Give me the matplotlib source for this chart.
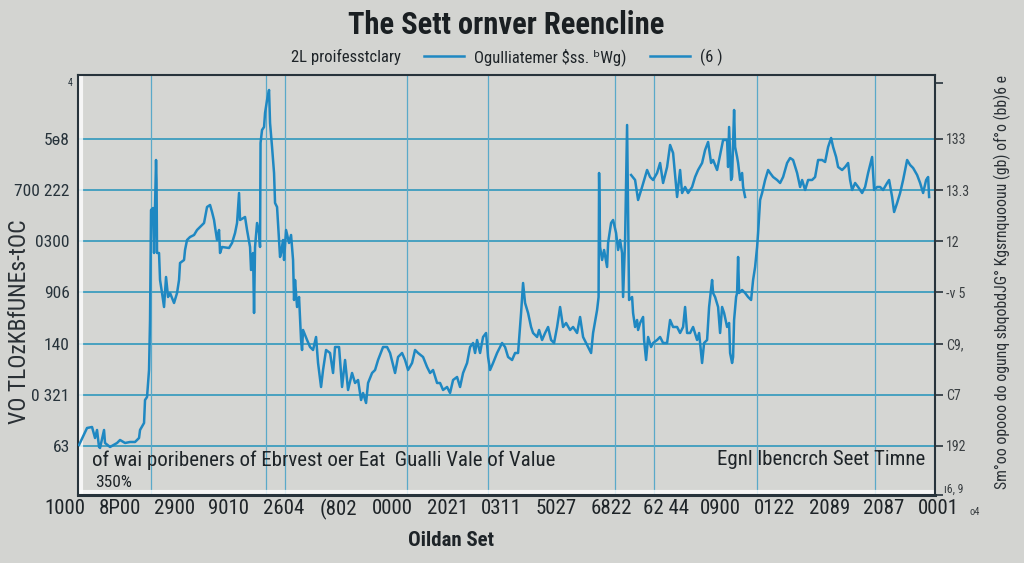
import matplotlib
matplotlib.use("Agg")
import matplotlib.pyplot as plt
import matplotlib.font_manager as fm
from matplotlib.lines import Line2D
import numpy as np

# pick a narrow face if one is installed, otherwise a plain one drawn a bit smaller
names = {f.name for f in fm.fontManager.ttflist}
dv_cond = any(f.name == 'DejaVu Sans' and 'condensed' in str(f.stretch) for f in fm.fontManager.ttflist)
if 'Liberation Sans Narrow' in names:
    FAM, STRETCH, K = 'Liberation Sans Narrow', 'normal', 1.0
elif 'Roboto Condensed' in names:
    FAM, STRETCH, K = 'Roboto Condensed', 'normal', 1.0
elif dv_cond:
    FAM, STRETCH, K = 'DejaVu Sans', 'condensed', 0.9
else:
    FAM, STRETCH, K = 'Liberation Sans', 'normal', 0.84
plt.rcParams['font.family'] = [FAM, 'DejaVu Sans']
plt.rcParams['font.stretch'] = STRETCH

# main series (step, level)
steps_a = [1, 9, 14, 17, 19, 21, 22, 26, 27, 32, 39, 42, 47, 52, 57, 61, 62, 66, 67, 69,
           71, 72, 73, 75, 76, 78, 78.5, 79, 81, 82, 84, 86, 88, 90, 92, 96, 99, 101, 102, 106,
           107, 109, 112, 116, 119, 122, 126, 129, 132, 134, 136, 137, 139, 141, 142, 144, 151, 154, 157, 159,
           161, 162, 167, 169, 172, 173, 175, 176, 177, 179, 181, 182, 182.5, 184, 186, 187, 189, 191, 192, 194,
           196, 197, 199, 201, 202, 203, 205, 206, 208, 211, 213, 215, 216, 217, 219, 221, 223, 224, 225, 229,
           232, 235, 238, 240, 243, 245, 248, 252, 255, 257, 261, 264, 267, 270, 274, 277, 280, 283, 285, 288,
           290, 294, 297, 300, 305, 309, 312, 317, 320, 324, 327, 330, 334, 337, 340, 345, 349, 352, 355, 359,
           362, 365, 369, 372, 375, 379, 382, 385, 389, 392, 395, 397, 399, 402, 405, 408, 410, 412, 415, 419,
           424, 427, 430, 434, 437, 440, 443, 445, 447, 450, 453, 455, 459, 461, 464, 467, 470, 473, 476, 479,
           482, 485, 488, 492, 495, 499, 502, 505, 508, 510, 513, 515, 519, 520.5, 521, 522, 524, 526, 529, 530,
           533, 535, 538, 540, 542, 544, 545, 547, 548, 549, 550, 551, 554, 555, 557, 559, 560, 562, 565, 566,
           568, 570, 573, 575, 579, 582, 585, 589, 592, 595, 599, 602, 605, 607, 609, 612, 615, 619, 621, 624,
           626, 629, 631, 634, 635, 637, 640, 642, 644, 646, 649, 651, 652, 654, 655, 656, 658, 659, 660, 661,
           664, 667, 670, 673, 675, 677, 679, 680, 682, 684, 687, 690, 692, 695, 699, 702, 705, 709, 712, 715,
           719, 722, 724, 727, 730, 734, 737, 740, 744, 747, 750, 753, 755, 758, 760, 764, 767, 770, 772, 774,
           777, 780, 784, 787, 790, 794, 796, 799, 802, 805, 809, 811, 814, 816, 819, 822, 825, 829, 832, 835,
           839, 842, 845, 848, 850, 851]
level_a = [50, 67, 68, 57, 65, 48, 47, 65, 52, 48, 52, 55, 52, 53, 53, 57, 65, 72, 95, 98,
           125, 175, 285, 287, 242, 335, 315, 242, 242, 215, 202, 188, 218, 198, 202, 192, 202, 215, 232, 235,
           245, 255, 258, 260, 265, 268, 272, 288, 290, 283, 275, 268, 255, 265, 242, 248, 247, 252, 262, 272,
           302, 275, 278, 265, 248, 225, 242, 182, 248, 272, 262, 248, 352, 365, 368, 382, 395, 405, 372, 348,
           322, 292, 288, 255, 238, 242, 255, 235, 265, 252, 260, 235, 195, 215, 188, 198, 155, 145, 165, 155,
           148, 145, 158, 132, 108, 125, 145, 142, 122, 148, 148, 108, 135, 105, 122, 112, 115, 95, 102, 92,
           112, 122, 125, 135, 148, 148, 142, 122, 138, 142, 135, 125, 132, 145, 142, 138, 128, 122, 125, 112,
           112, 105, 108, 102, 115, 118, 108, 122, 132, 148, 152, 142, 155, 142, 158, 162, 138, 125, 132, 142,
           152, 148, 138, 135, 142, 142, 182, 212, 192, 182, 168, 162, 158, 165, 155, 162, 168, 155, 152, 168,
           188, 168, 172, 165, 168, 162, 178, 158, 152, 148, 142, 162, 185, 198, 322, 248, 235, 245, 228, 252,
           272, 275, 262, 245, 255, 242, 198, 255, 315, 370, 282, 195, 198, 182, 168, 175, 165, 172, 178, 155,
           135, 158, 148, 152, 155, 158, 152, 152, 175, 168, 168, 162, 168, 188, 162, 162, 168, 155, 162, 132,
           152, 155, 188, 215, 202, 198, 188, 162, 188, 182, 168, 172, 142, 132, 138, 175, 198, 202, 238, 202,
           205, 202, 198, 195, 215, 228, 248, 262, 295, 302, 315, 325, 322, 318, 315, 312, 318, 332, 337, 335,
           322, 308, 315, 305, 315, 315, 318, 335, 335, 333, 348, 357, 348, 338, 328, 325, 328, 332, 315, 305,
           312, 308, 302, 308, 322, 338, 305, 308, 308, 305, 312, 315, 298, 283, 292, 302, 315, 335, 330, 327,
           320, 312, 302, 315, 318, 298]

# upper branch
steps_b = [553, 557, 560, 564, 569, 572, 575, 579, 582, 585, 589, 592, 595, 599, 602, 604, 607, 610, 614, 617,
           620, 624, 627, 630, 633, 635, 639, 645, 649, 650, 651, 653, 654, 656, 657, 659, 660, 662, 664, 665, 667]
level_b = [320, 315, 295, 308, 325, 318, 315, 322, 332, 312, 328, 350, 342, 298, 325, 302, 308, 302, 308, 318,
           325, 332, 345, 353, 332, 335, 325, 355, 355, 328, 368, 315, 318, 385, 348, 338, 332, 315, 322, 308, 298]

grid_levels = np.linspace(49, 356, 7)
grid_steps = [73, 188, 207, 329, 410, 537, 576, 679, 797]

left_labels = ["63", "0 321", "140", "906", "0300", "700 222", "5\u04e98"]
right_labels = ["192", "C7", "C9,", "-v 5", "12", "13.3", "133"]

x_label_pos = [-13 + 54.6 * i for i in range(17)]
x_labels = ["1000", "8P00", "2900", "9010", "2604", "(802", "0000", "2021", "0311",
            "5027", "6822", "62 44", "0900", "0122", "2089", "2087", "0001"]

bg = '#d3d4d1'
blue = '#1f88c2'
grid_c = '#3d9dbf'
dark = '#27333b'
txt = '#1e2428'

fig = plt.figure(figsize=(10.24, 5.63), dpi=100, facecolor=bg)
ax = fig.add_axes([0.0762, 0.1208, 0.837, 0.746], facecolor='#d5d6d3')
ax.set_xlim(0, 857)
ax.set_ylim(0, 420)

for g in grid_levels:
    ax.axhline(g, color=grid_c, lw=1.3, zorder=1)
for g in grid_steps:
    ax.axvline(g, color='#5aa9c9', lw=0.9, zorder=1)
ax.axhline(3, color='white', lw=3, alpha=0.8, zorder=1)
ax.axvline(3, color='white', lw=3, alpha=0.8, zorder=1)

la, = ax.plot(steps_a, level_a, color=blue, lw=1.8, zorder=3,
              label="Ogulliatemer \\$ss. \u1d47Wg)")
lb, = ax.plot(steps_b, level_b, color=blue, lw=1.8, zorder=3, label="(6 )")

for s in ax.spines.values():
    s.set_color(dark)
    s.set_linewidth(1.5)
ax.spines['bottom'].set_linewidth(2.2)

ax.set_xticks([])
ax.set_yticks(grid_levels)
ax.set_yticklabels(left_labels, fontsize=12.5 * K, color=dark)
ax.tick_params(axis='y', length=0, pad=6)
ax.text(-6, 412, "4", fontsize=7, color=dark, ha='right', va='center')

ax2 = ax.twinx()
ax2.set_ylim(0, 420)
ax2.set_yticks([0] + list(grid_levels) + [412])
ax2.set_yticklabels([""] + right_labels + [""], fontsize=10 * K, color='#3a3f42')
ax2.tick_params(axis='y', direction='out', length=6, width=1.2, color=dark, pad=2)
for s in ax2.spines.values():
    s.set_visible(False)
ax.text(866, 6, "\u01316, 9", fontsize=8.5 * K, color='#3a3f42', ha='left', va='center',
        clip_on=False)

for xp, lab in zip(x_label_pos, x_labels):
    ax.text(xp, -14, lab, fontsize=15 * K, color=txt, ha='center', va='center',
            clip_on=False)
ax.text(897, -17, "\u03bf4", fontsize=7.5, color='#3a3f42', ha='center', va='center',
        clip_on=False)

ax.text(14, 35, "of wai poribeners of Ebrvest oer Eat  Gualli Vale of Value",
        fontsize=15 * K, color=txt, ha='left', va='center')
ax.text(17, 12, "350%", fontsize=12.5 * K, color=txt, ha='left', va='center')
ax.text(847, 35, "Egnl lbencrch Seet Timne", fontsize=15 * K, color=txt,
        ha='right', va='center')

fig.text(451 / 1024, 1 - 540 / 563, "Oildan Set", fontsize=15 * K, fontweight='bold',
         color=txt, ha='center', va='center')
fig.text(506 / 1024, 1 - 25 / 563, "The Sett ornver Reencline", fontsize=22 * K,
         fontweight='bold', color='#1a1f22', ha='center', va='center')
fig.text(20 / 1024, 1 - 322 / 563, "VO TLOzKBfUNEs-tOC", fontsize=17 * K, rotation=90,
         color='#2a3035', ha='center', va='center')
fig.text(1002 / 1024, 1 - 282 / 563,
         "Sm\u00b0oo opooo do ogunq sbqobdJG\u00b0 Kgsrnquoouu (gb) of\u00b0o (bb)6 e",
         fontsize=11.3 * K, rotation=90, color='#2a3035', ha='center', va='center')

blank = Line2D([], [], color='none')
fig.legend(handles=[blank, la, lb],
           labels=["2L proifesstclary", la.get_label(), lb.get_label()],
           loc='center', bbox_to_anchor=(482 / 1024, 1 - 57 / 563), ncol=3,
           frameon=False, fontsize=12 * K, handlelength=2.4, columnspacing=1.4,
           handletextpad=0.6, labelcolor=txt)

fig.savefig("out.png", dpi=100, facecolor=bg)
